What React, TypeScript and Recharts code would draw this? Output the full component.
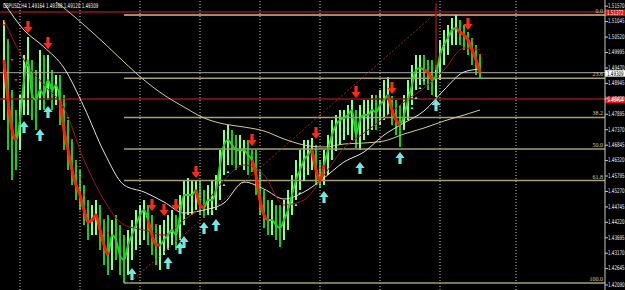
import React from "react";
import { ComposedChart, Bar, Cell, Line, Scatter, XAxis, YAxis, ReferenceLine } from "recharts";

// GBPUSD H4, one entry per bar (oldest first)
const highs = [
  1.511, 1.5042, 1.4872, 1.4804, 1.4855, 1.4991, 1.50522, 1.4974, 1.494, 1.5008,
  1.4991, 1.4991, 1.494, 1.4923, 1.4923, 1.4855, 1.477, 1.4702, 1.4634, 1.46,
  1.4549, 1.4498, 1.4481, 1.4498, 1.4481, 1.443, 1.4447, 1.443, 1.4447, 1.4413,
  1.4379, 1.4396, 1.443, 1.4464, 1.4481, 1.4498, 1.4481, 1.4447, 1.4413, 1.4413,
  1.443, 1.4447, 1.4464, 1.4447, 1.4515, 1.4566, 1.45728, 1.4566, 1.4566, 1.4566,
  1.4532, 1.4549, 1.4566, 1.4583, 1.4668, 1.4736, 1.4753, 1.4736, 1.4719, 1.4719,
  1.4702, 1.4702, 1.4668, 1.4668, 1.46, 1.4532, 1.4498, 1.4498, 1.4481, 1.4481,
  1.4498, 1.4532, 1.4583, 1.4634, 1.4668, 1.4702, 1.4702, 1.47088, 1.4685, 1.4634,
  1.4668, 1.4719, 1.477, 1.4787, 1.4804, 1.4804, 1.4821, 1.4838, 1.4804, 1.4821,
  1.4838, 1.4838, 1.4855, 1.4855, 1.4872, 1.4906, 1.49162, 1.48516, 1.4838, 1.4821,
  1.4855, 1.4906, 1.4957, 1.4991, 1.4991, 1.4991, 1.4974, 1.4974, 1.4957, 1.5042,
  1.5076, 1.5093, 1.51168, 1.5127, 1.511, 1.5093, 1.50692, 1.50488, 1.5025, 1.4991,
];
const lows = [
  1.477, 1.4668, 1.4566, 1.46, 1.4668, 1.4787, 1.4787, 1.477, 1.4736, 1.4804,
  1.4804, 1.4838, 1.4804, 1.4821, 1.4753, 1.4668, 1.46, 1.4549, 1.4498, 1.4464,
  1.4413, 1.4362, 1.4379, 1.4379, 1.4328, 1.4277, 1.4243, 1.426, 1.4294, 1.4243,
  1.42158, 1.4243, 1.4294, 1.4328, 1.4345, 1.4362, 1.4345, 1.4311, 1.4277, 1.426,
  1.4311, 1.4328, 1.4345, 1.4328, 1.4362, 1.4413, 1.4447, 1.4447, 1.4464, 1.4447,
  1.44368, 1.4447, 1.4447, 1.4464, 1.4498, 1.4583, 1.4617, 1.4617, 1.46, 1.4617,
  1.46, 1.4583, 1.45932, 1.4515, 1.4447, 1.44028, 1.4379, 1.4379, 1.4362, 1.43382,
  1.4362, 1.4396, 1.4447, 1.4498, 1.4532, 1.4566, 1.4583, 1.46, 1.4549, 1.45388,
  1.4549, 1.4583, 1.4634, 1.4668, 1.4685, 1.4702, 1.4719, 1.4702, 1.46748, 1.4668,
  1.4702, 1.4719, 1.4736, 1.4736, 1.4753, 1.477, 1.4787, 1.4753, 1.4719, 1.46782,
  1.4736, 1.477, 1.4821, 1.4872, 1.4889, 1.4889, 1.4872, 1.4855, 1.48482, 1.4906,
  1.4957, 1.4991, 1.5025, 1.5025, 1.5025, 1.5008, 1.4991, 1.4957, 1.4923, 1.49128,
];
const closes = [
  1.4974, 1.4838, 1.4736, 1.4702, 1.477, 1.4906, 1.4974, 1.4855, 1.4838, 1.4872,
  1.4855, 1.4906, 1.4872, 1.4889, 1.4838, 1.4736, 1.4668, 1.46, 1.4549, 1.4515,
  1.4464, 1.44232, 1.443, 1.4447, 1.4396, 1.4345, 1.4311, 1.4379, 1.4362, 1.4311,
  1.4294, 1.4345, 1.4379, 1.4413, 1.4447, 1.4464, 1.443, 1.4379, 1.4345, 1.4345,
  1.4362, 1.4379, 1.4396, 1.4379, 1.4447, 1.4515, 1.4515, 1.4515, 1.4532, 1.4481,
  1.44708, 1.4498, 1.4498, 1.4532, 1.4617, 1.4685, 1.4702, 1.4685, 1.4668, 1.4668,
  1.4668, 1.4651, 1.4634, 1.4583, 1.4498, 1.4447, 1.443, 1.443, 1.4413, 1.44028,
  1.443, 1.4464, 1.4515, 1.4566, 1.46, 1.4634, 1.4651, 1.4668, 1.46, 1.4566,
  1.4617, 1.4668, 1.4719, 1.4753, 1.477, 1.47768, 1.4787, 1.4804, 1.4719, 1.477,
  1.4787, 1.4787, 1.4804, 1.47972, 1.4821, 1.4838, 1.4855, 1.4804, 1.477, 1.4753,
  1.4787, 1.4838, 1.4889, 1.494, 1.49468, 1.494, 1.49332, 1.4906, 1.4923, 1.4991,
  1.5025, 1.50488, 1.5076, 1.50828, 1.50692, 1.5059, 1.5042, 1.5008, 1.4974, 1.49309,
];

// bar ranges where the trend line turns red
const downRanges = [[0, 3], [14, 26], [36, 39], [48, 50], [62, 66], [77, 80], [96, 99], [105, 107], [113, 119]];

// moving averages, read every few bars
const maIdx = [0, 5, 10, 15, 20, 25, 30, 35, 40, 45, 50, 55, 60, 65, 70, 75, 80, 85, 90, 95, 100, 105, 110, 115, 119];
const whiteMa = [1.51678, 1.5076, 1.50182, 1.49468, 1.48142, 1.46612, 1.4549, 1.45252, 1.44912, 1.44538, 1.4464, 1.44878, 1.45592, 1.45354, 1.45014, 1.45252, 1.45728, 1.46272, 1.46612, 1.4719, 1.47598, 1.48006, 1.4872, 1.49332, 1.49434];
const redMa = [1.511, 1.4974, 1.4889, 1.48108, 1.4634, 1.4498, 1.4413, 1.4396, 1.4379, 1.443, 1.4481, 1.4566, 1.4617, 1.4583, 1.4481, 1.4498, 1.4583, 1.46748, 1.47258, 1.47768, 1.48312, 1.48788, 1.494, 1.50148, 1.5008];
const tanIdx = [13, 15, 20, 25, 30, 35, 40, 45, 50, 55, 60, 65, 70, 75, 80, 85, 90, 95, 100, 105, 110, 115, 119];
const tanMa = [1.51712, 1.51508, 1.5093, 1.50318, 1.49672, 1.4906, 1.4855, 1.48142, 1.47768, 1.47564, 1.47462, 1.47326, 1.47054, 1.4685, 1.46782, 1.46884, 1.46918, 1.46986, 1.47224, 1.47428, 1.47666, 1.4787, 1.4804];

// signal arrows
const sellIdx = [6, 11, 37, 40, 43, 48, 62, 78, 88, 97, 116];
const sellPrice = [1.50862, 1.50318, 1.4481, 1.4464, 1.4481, 1.45932, 1.4702, 1.47258, 1.48652, 1.48788, 1.50964];
const buyIdx = [5, 9, 11, 32, 41, 44, 45, 50, 53, 80, 89, 99, 108];
const buyPrice = [1.47462, 1.4719, 1.47972, 1.42464, 1.42838, 1.43348, 1.43552, 1.44028, 1.4413, 1.45082, 1.46068, 1.46408, 1.4821];

// trailing stop marks
const stopDnIdx = [0, 1, 2, 3, 15, 16, 17, 18, 19, 20, 25, 26, 38, 39, 117, 118, 119];
const stopDnPrice = [1.5093, 1.5042, 1.4974, 1.4906, 1.4838, 1.47768, 1.4702, 1.46272, 1.45728, 1.4515, 1.443, 1.43858, 1.4413, 1.4379, 1.5042, 1.50148, 1.4991];
const stopUpIdx = [55, 56, 73, 74, 75, 76, 82, 83, 84, 85, 86, 90, 91, 92, 102, 103, 104, 105, 110, 111, 112, 113];
const stopUpPrice = [1.4549, 1.45932, 1.4481, 1.45218, 1.4566, 1.46068, 1.46408, 1.4668, 1.46952, 1.4719, 1.47428, 1.47768, 1.47768, 1.47768, 1.48108, 1.48448, 1.48788, 1.4906, 1.5025, 1.5042, 1.5059, 1.5076];

const priceTicks = [1.5157, 1.51045, 1.5052, 1.49995, 1.4947, 1.48945, 1.4842, 1.47895, 1.4737, 1.46845, 1.4632, 1.45795, 1.4527, 1.44745, 1.4422, 1.43695, 1.4317, 1.42645, 1.4209];
const separators = [4, 19, 34, 49, 64, 79, 94, 109, 128];
const fibRatios = [0, 23.6, 38.2, 50, 61.8, 100];
const redLevels = [1.51372, 1.48414];

const title = "GBPUSD,H4  1.49164 1.49368 1.49120 1.49309";

const rows = highs.map((h, i) => {
  const down = downRanges.some(([a, b]) => i >= a && i <= b);
  return {
    i,
    high: h,
    low: lows[i],
    close: closes[i],
    red: down ? closes[i] : null,
    up: i === 0 ? true : closes[i] >= closes[i - 1],
  };
});

const pts = (idx: number[], vals: number[]) => idx.map((i, k) => ({ i, v: vals[k] }));

const loIdx = lows.indexOf(Math.min(...lows));
const fibHigh = Math.max(...highs);
const fibLow = lows[loIdx];
const fibLevels = fibRatios.map((r) => ({ r, v: fibHigh - (fibHigh - fibLow) * (r / 100) }));

// MT4 draws its labels in a very narrow small font
const NarrowText = ({ x, y, fill, children }: any) => (
  <g transform={`translate(${x},${y}) scale(0.62,1)`}>
    <text x={0} y={0} fill={fill} fontSize={6.5} fontFamily="DejaVu Sans">
      {children}
    </text>
  </g>
);

const DownArrow = (p: any) => {
  const { cx, cy } = p;
  return (
    <path
      d={`M${cx - 1.6},${cy - 6} h3.2 v6 h3 L${cx},${cy + 6} L${cx - 4.6},${cy} h3 z`}
      fill="#ff2a14"
    />
  );
};
const UpArrow = (p: any) => {
  const { cx, cy } = p;
  return (
    <path
      d={`M${cx - 1.6},${cy + 6} h3.2 v-6 h3 L${cx},${cy - 6} L${cx - 4.6},${cy} h3 z`}
      fill="#6fe8e6"
    />
  );
};
const SmallDown = (p: any) => <path d={`M${p.cx - 1.5},${p.cy - 1} h3 L${p.cx},${p.cy + 1.5} z`} fill="#ff3322" />;
const SmallUp = (p: any) => <path d={`M${p.cx - 1.5},${p.cy + 1} h3 L${p.cx},${p.cy - 1.5} z`} fill="#7fe8e8" />;

const PriceTick = (p: any) => (
  <NarrowText x={p.x} y={p.y + 1.8} fill="#e8e8e8">
    {Number(p.payload.value).toFixed(5)}
  </NarrowText>
);

const tag = (text: string, bg: string, fg: string) => (p: any) => {
  const { x, y, width } = p.viewBox;
  const right = x + width;
  return (
    <g>
      <rect x={right} y={y - 2.5} width={20} height={6.5} fill={bg} />
      <NarrowText x={right + 2} y={y + 3} fill={fg}>
        {text}
      </NarrowText>
    </g>
  );
};

export default function App() {
  const last = closes[closes.length - 1];
  return (
    <div style={{ position: "fixed", left: 0, top: 0, width: 625, height: 290, background: "#000" }}>
      <ComposedChart width={625} height={290} data={rows} margin={{ top: 0, right: 0, bottom: 0, left: 0 }}>
        <XAxis dataKey="i" type="number" domain={[-1, 150.25]} allowDataOverflow hide />
        <YAxis
          orientation="right"
          width={20}
          domain={[1.4192, 1.5178]}
          allowDataOverflow
          ticks={priceTicks}
          interval={0}
          tick={<PriceTick />}
          tickSize={3}
          tickMargin={0}
          axisLine={{ stroke: "#c8c8c8" }}
          tickLine={{ stroke: "#c8c8c8" }}
        />
        {separators.map((s) => (
          <ReferenceLine key={"s" + s} x={s} stroke="#cfcfcf" strokeDasharray="1 2" />
        ))}
        {fibLevels.map((f) => (
          <ReferenceLine
            key={"f" + f.r}
            segment={[{ x: loIdx, y: f.v }, { x: 150.25, y: f.v }]}
            stroke={f.r === 0 ? "#c8c0a0" : "#a4a070"}
            strokeWidth={1.5}
            label={{ value: f.r.toFixed(1), position: "insideBottomRight", offset: 2, fill: "#d6cc8c", fontSize: 6 }}
          />
        ))}
        <ReferenceLine y={redLevels[0]} stroke="#8e1616" strokeWidth={1.5} label={{ content: tag(redLevels[0].toFixed(5), "#e01010", "#fff") }} />
        <ReferenceLine y={redLevels[1]} stroke="#8e1616" strokeWidth={1.5} label={{ content: tag(redLevels[1].toFixed(5), "#e01010", "#fff") }} />
        <ReferenceLine y={last} stroke="#a8a8a8" label={{ content: tag(last.toFixed(5), "#ffffff", "#000") }} />
        <ReferenceLine segment={[{ x: 108, y: 1.51678 }, { x: 108, y: 1.494 }]} stroke="#8e1616" strokeWidth={1.5} />
        <ReferenceLine segment={[{ x: 31, y: 1.42124 }, { x: 108, y: 1.51338 }]} stroke="#b02020" strokeDasharray="2 2" />

        <Line data={pts(tanIdx, tanMa)} dataKey="v" type="monotone" stroke="#d4cc8c" strokeWidth={1} dot={false} activeDot={false} isAnimationActive={false} />
        <Line data={pts(maIdx, whiteMa)} dataKey="v" type="monotone" stroke="#e0e0e0" strokeWidth={1} dot={false} activeDot={false} isAnimationActive={false} />
        <Line data={pts(maIdx, redMa)} dataKey="v" type="monotone" stroke="#a51212" strokeWidth={1} dot={false} activeDot={false} isAnimationActive={false} />

        <Bar dataKey={(d: any) => [d.low, d.high]} barSize={2} isAnimationActive={false}>
          {rows.map((r) => (
            <Cell key={r.i} fill={r.up ? "#8cff86" : "#22c822"} />
          ))}
        </Bar>
        <Line dataKey="close" type="monotone" stroke="#1fd81f" strokeWidth={2} dot={false} activeDot={false} isAnimationActive={false} />
        <Line dataKey="red" type="monotone" stroke="#ff2000" strokeWidth={3} dot={false} activeDot={false} connectNulls={false} isAnimationActive={false} />

        <Scatter data={pts(stopDnIdx, stopDnPrice)} dataKey="v" shape={<SmallDown />} isAnimationActive={false} />
        <Scatter data={pts(stopUpIdx, stopUpPrice)} dataKey="v" shape={<SmallUp />} isAnimationActive={false} />
        <Scatter data={pts(sellIdx, sellPrice)} dataKey="v" shape={<DownArrow />} isAnimationActive={false} />
        <Scatter data={pts(buyIdx, buyPrice)} dataKey="v" shape={<UpArrow />} isAnimationActive={false} />
      </ComposedChart>
      <svg width={130} height={12} style={{ position: "absolute", left: 0, top: 0, pointerEvents: "none" }}>
        <NarrowText x={3} y={8} fill="#f0f0f0">
          {title}
        </NarrowText>
      </svg>
    </div>
  );
}
